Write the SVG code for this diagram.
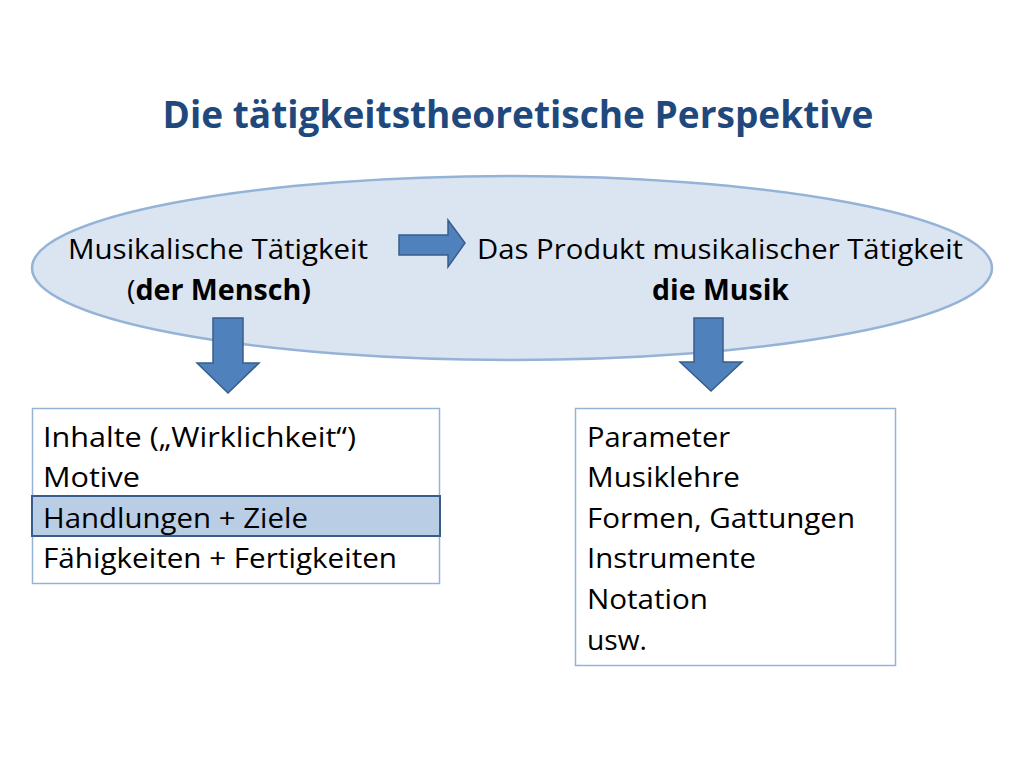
<svg xmlns="http://www.w3.org/2000/svg" width="1024" height="768" viewBox="0 0 1024 768">
<style>
.t{font-family:"Open Sans","Noto Sans","Liberation Sans",sans-serif;font-size:28px;fill:#000}
.b{font-weight:bold}
.title{font-family:"Open Sans","Noto Sans","Liberation Sans",sans-serif;font-size:37px;font-weight:bold;fill:#1f497d}
.arrow{fill:#4f81bd;stroke:#385d8a;stroke-width:1.5}
.box{fill:#fff;stroke:#95b3d7;stroke-width:1.5}
</style>
<rect width="1024" height="768" fill="#fff"/>
<text class="title" x="518" y="128" text-anchor="middle" textLength="711" lengthAdjust="spacingAndGlyphs">Die tätigkeitstheoretische Perspektive</text>
<g id="ellipse">
<ellipse cx="512" cy="268" rx="480" ry="92" fill="#dbe5f1" stroke="#95b3d7" stroke-width="2.5"/>
<text class="t" x="68" y="259" textLength="300" lengthAdjust="spacingAndGlyphs">Musikalische Tätigkeit</text>
<text class="t" x="127" y="300" textLength="184" lengthAdjust="spacingAndGlyphs">(<tspan class="b">der Mensch)</tspan></text>
<text class="t" x="477" y="259" textLength="486" lengthAdjust="spacingAndGlyphs">Das Produkt musikalischer Tätigkeit</text>
<text class="t b" x="652" y="300" textLength="137" lengthAdjust="spacingAndGlyphs">die Musik</text>
</g>
<g id="connectors">
<path class="arrow" d="M399,235 H448 V220 L465,243 L448,267 V255 H399 Z"/>
<path class="arrow" d="M213,318 H243 V363 H259 L228,393 L197,363 H213 Z"/>
<path class="arrow" d="M694,318 H723 V362 H742 L711,391 L680,362 H694 Z"/>
</g>
<g id="left-box">
<rect class="box" x="32.5" y="408.5" width="407" height="175"/>
<rect x="32" y="496" width="408" height="40" fill="#b9cde5" stroke="#385d8a" stroke-width="2"/>
<text class="t" x="43" y="447" textLength="313" lengthAdjust="spacingAndGlyphs">Inhalte („Wirklichkeit“)</text>
<text class="t" x="43" y="487" textLength="97" lengthAdjust="spacingAndGlyphs">Motive</text>
<text class="t" x="43" y="528" textLength="265" lengthAdjust="spacingAndGlyphs">Handlungen + Ziele</text>
<text class="t" x="43" y="568" textLength="354" lengthAdjust="spacingAndGlyphs">Fähigkeiten + Fertigkeiten</text>
</g>
<g id="right-box">
<rect class="box" x="575.5" y="408.5" width="320" height="257"/>
<text class="t" x="587" y="447" textLength="143" lengthAdjust="spacingAndGlyphs">Parameter</text>
<text class="t" x="587" y="487" textLength="153" lengthAdjust="spacingAndGlyphs">Musiklehre</text>
<text class="t" x="587" y="528" textLength="268" lengthAdjust="spacingAndGlyphs">Formen, Gattungen</text>
<text class="t" x="587" y="568" textLength="169" lengthAdjust="spacingAndGlyphs">Instrumente</text>
<text class="t" x="587" y="609" textLength="121" lengthAdjust="spacingAndGlyphs">Notation</text>
<text class="t" x="587" y="650" textLength="60" lengthAdjust="spacingAndGlyphs">usw.</text>
</g>
</svg>
